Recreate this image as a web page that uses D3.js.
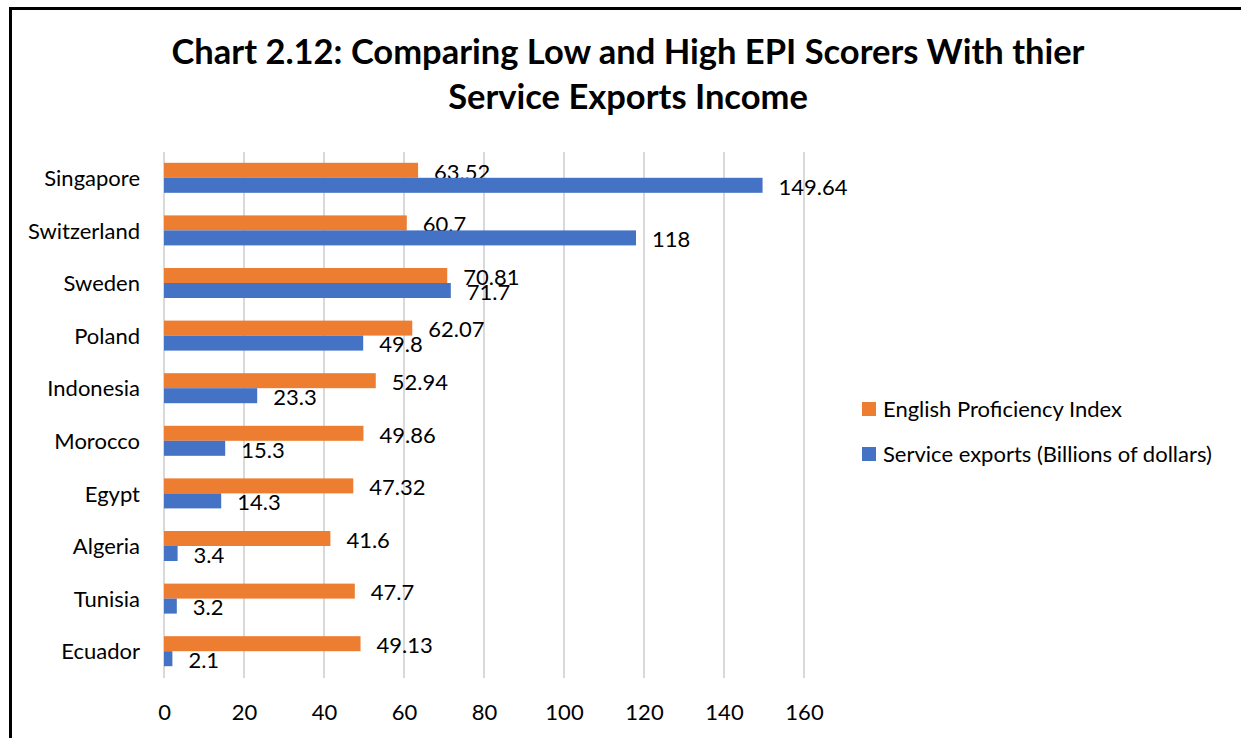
<!DOCTYPE html>
<html>
<head>
<meta charset="utf-8">
<script src="https://cdn.jsdelivr.net/npm/d3@7"></script>
<style>
  html, body { margin: 0; padding: 0; background: #fff; }
  svg { display: block; }
  text { font-family: Lato, "Open Sans", sans-serif; fill: #000; }
</style>
</head>
<body>
<svg id="chart" width="1241" height="738"></svg>
<script>
// Countries, top to bottom
const countries = ["Singapore", "Switzerland", "Sweden", "Poland", "Indonesia",
                   "Morocco", "Egypt", "Algeria", "Tunisia", "Ecuador"];
// English Proficiency Index scores
const epiScores = [63.52, 60.7, 70.81, 62.07, 52.94, 49.86, 47.32, 41.6, 47.7, 49.13];
// Service exports, billions of dollars
const serviceExports = [149.64, 118, 71.7, 49.8, 23.3, 15.3, 14.3, 3.4, 3.2, 2.1];
// Axis ticks
const xTicks = [0, 20, 40, 60, 80, 100, 120, 140, 160];
const seriesNames = ["English Proficiency Index", "Service exports (Billions of dollars)"];
const seriesColors = ["#ED7D31", "#4472C4"];
const titleLines = ["Chart 2.12: Comparing Low and High EPI Scorers With thier",
                    "Service Exports Income"];

const svg = d3.select("#chart");
const FS = 22;

// outer frame
svg.append("rect")
  .attr("x", 10.5).attr("y", 8.5)
  .attr("width", 1240).attr("height", 740)
  .attr("fill", "none").attr("stroke", "#000").attr("stroke-width", 3);

// title
svg.selectAll("text.title")
  .data(titleLines)
  .join("text")
  .attr("class", "title")
  .attr("x", 628)
  .attr("y", (d, i) => 64 + i * 45)
  .attr("text-anchor", "middle")
  .attr("font-size", 34.5)
  .attr("font-weight", "bold")
  .text(d => d);

const plot = { left: 164, right: 804, top: 152, bottom: 678 };

const x = d3.scaleLinear().domain([0, 160]).range([plot.left, plot.right]);
const y = d3.scaleBand().domain(countries).range([plot.top, plot.bottom]).paddingInner(0).paddingOuter(0);
const sub = d3.scaleBand().domain([0, 1]).range([0, 30]);
const barOffset = (y.bandwidth() - 30) / 2 - 0.5;

// vertical gridlines
svg.append("g")
  .selectAll("line")
  .data(xTicks)
  .join("line")
  .attr("x1", d => x(d)).attr("x2", d => x(d))
  .attr("y1", plot.top).attr("y2", plot.bottom)
  .attr("stroke", "#D9D9D9").attr("stroke-width", 2);

// x axis tick labels
const xAxis = d3.axisBottom(x).tickValues(xTicks).tickSize(0).tickPadding(0);
const gx = svg.append("g").attr("transform", `translate(0,${plot.bottom + 27})`).call(xAxis);
gx.select(".domain").remove();
gx.selectAll("text").attr("font-size", FS).attr("font-family", "Lato, sans-serif").attr("fill", "#000").attr("dy", "0.35em").attr("y", 7);

// category labels
const yAxis = d3.axisLeft(y).tickSize(0).tickPadding(0);
const gy = svg.append("g").attr("transform", `translate(140,0)`).call(yAxis);
gy.select(".domain").remove();
gy.selectAll("text").attr("font-size", FS).attr("font-family", "Lato, sans-serif").attr("fill", "#000").attr("dy", "0.35em");

const series = [epiScores, serviceExports];

series.forEach((vals, s) => {
  const g = svg.append("g");
  g.selectAll("rect")
    .data(countries)
    .join("rect")
    .attr("x", x(0))
    .attr("y", d => y(d) + barOffset + sub(s))
    .attr("width", (d, i) => x(vals[i]) - x(0))
    .attr("height", sub.bandwidth())
    .attr("fill", seriesColors[s]);
  g.selectAll("text")
    .data(countries)
    .join("text")
    .attr("x", (d, i) => x(vals[i]) + 16)
    .attr("y", d => y(d) + barOffset + sub(s) + sub.bandwidth() / 2 + 1.5)
    .attr("dy", "0.35em")
    .attr("font-size", FS)
    .text((d, i) => vals[i]);
});

// legend
const legend = svg.append("g").selectAll("g")
  .data(seriesNames)
  .join("g")
  .attr("transform", (d, i) => `translate(862,${402 + i * 45})`);
legend.append("rect").attr("width", 14).attr("height", 14).attr("fill", (d, i) => seriesColors[i]);
legend.append("text").attr("x", 21).attr("y", 7).attr("dy", "0.35em").attr("font-size", FS).text(d => d);
</script>
</body>
</html>
